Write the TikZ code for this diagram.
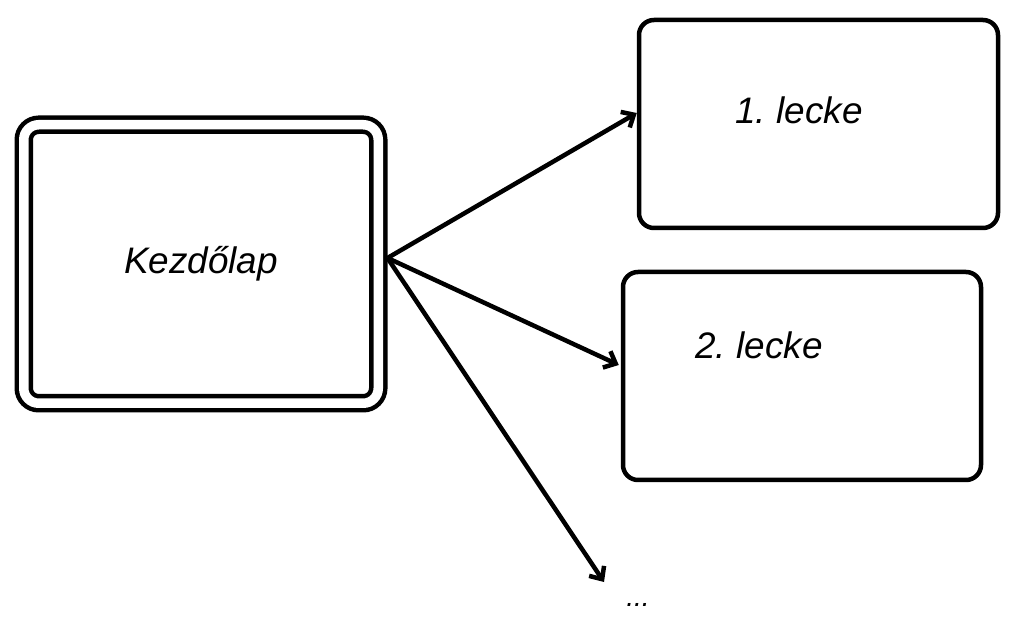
\documentclass[tikz,border=0pt]{standalone}
\usepackage{fontspec}
\setmainfont{Liberation Sans}
\usetikzlibrary{arrows.meta}

\tikzset{lapbox/.style={rectangle, draw=black, line width=0.09cm, rounded corners=0.3cm, text centered}}
\tikzset{lapfont/.style={font=\fontsize{21}{25}\selectfont\itshape}}

\begin{document}
\frenchspacing
\begin{tikzpicture}[>={Straight Barb[length=0.2cm,width=0.36cm]}]
\useasboundingbox (0,0) rectangle (20.2,-12.48);

\node [lapbox, lapfont, double, double distance=0.19cm, outer sep=0.185cm,
       minimum width=7.09cm, minimum height=5.57cm] (main) at (4.02,-5.28) {Kezd\H{o}lap};
\node [lapbox, minimum width=7.18cm, minimum height=4.16cm] (l1) at (16.37,-2.48) {};
\node [lapbox, minimum width=7.16cm, minimum height=4.16cm] (l2) at (16.04,-7.52) {};

\node [lapfont] (l1txt) at (15.98,-2.2) {1. lecke};
\node [lapfont] (l2txt) at (15.18,-6.9) {2. lecke};
\node [font=\fontsize{16}{18}\selectfont\itshape] (more) at (12.76,-12.1) {...};
\coordinate (moreend) at (12.08,-11.64);

\draw [->, line width=0.09cm] ([yshift=0.12cm]main.east) to ([yshift=0.22cm]l1.west);
\draw [->, line width=0.09cm] ([yshift=0.12cm]main.east) to ([yshift=0.22cm,xshift=-0.04cm]l2.west);
\draw [->, line width=0.09cm] ([yshift=0.12cm]main.east) to (moreend);

\end{tikzpicture}
\end{document}
